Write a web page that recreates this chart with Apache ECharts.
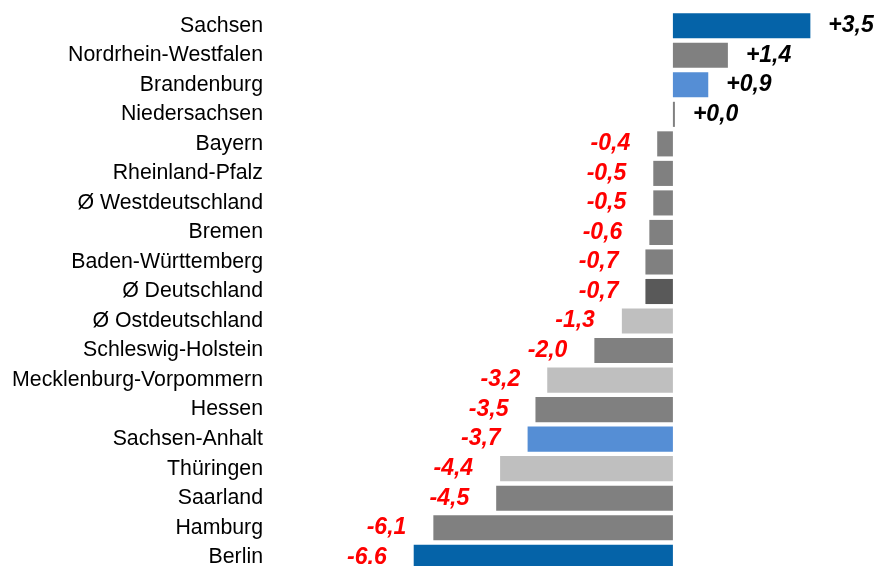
<!DOCTYPE html>
<html>
<head>
<meta charset="utf-8">
<script src="https://cdn.jsdelivr.net/npm/echarts@6/dist/echarts.min.js"></script>
<style>
html,body{margin:0;padding:0;background:#fff;}
#chart{width:877px;height:566px;}
</style>
</head>
<body>
<div id="chart"></div>
<script>
var categories = ["Sachsen","Nordrhein-Westfalen","Brandenburg","Niedersachsen","Bayern","Rheinland-Pfalz","Ø Westdeutschland","Bremen","Baden-Württemberg","Ø Deutschland","Ø Ostdeutschland","Schleswig-Holstein","Mecklenburg-Vorpommern","Hessen","Sachsen-Anhalt","Thüringen","Saarland","Hamburg","Berlin"];
var values = [3.5,1.4,0.9,0.0,-0.4,-0.5,-0.5,-0.6,-0.7,-0.7,-1.3,-2.0,-3.2,-3.5,-3.7,-4.4,-4.5,-6.1,-6.6];
var valueLabels = ["+3,5","+1,4","+0,9","+0,0","-0,4","-0,5","-0,5","-0,6","-0,7","-0,7","-1,3","-2,0","-3,2","-3,5","-3,7","-4,4","-4,5","-6,1","-6.6"];
var barColors = ["#0563A8","#808080","#558ED5","#808080","#808080","#808080","#808080","#808080","#808080","#595959","#BFBFBF","#808080","#BFBFBF","#808080","#558ED5","#BFBFBF","#808080","#808080","#0563A8"];

var chart = echarts.init(document.getElementById('chart'));
var data = values.map(function(v, i){
  var pos = v >= 0;
  return {
    value: v,
    itemStyle: {color: barColors[i]},
    label: {
      show: true,
      position: pos ? 'right' : 'left',
      distance: pos ? 18 : 27,
      formatter: valueLabels[i],
      color: pos ? '#000000' : '#FF0000',
      fontFamily: 'Liberation Sans, Arial, sans-serif',
      fontWeight: 'bold',
      fontStyle: 'italic',
      fontSize: 23
    }
  };
});
chart.setOption({
  animation: false,
  backgroundColor: '#ffffff',
  grid: {left: 398, width: 432, top: 11, height: 561, outerBoundsMode: 'none', containLabel: false},
  xAxis: {
    type: 'value', min: -7, max: 4, show: false,
    splitLine: {show: false}
  },
  yAxis: {
    type: 'category', data: categories, inverse: true,
    axisLine: {show: false}, axisTick: {show: false},
    axisLabel: {
      margin: 135, color: '#000000', fontSize: 21.3,
      fontFamily: 'Liberation Sans, Arial, sans-serif'
    }
  },
  series: [{
    type: 'bar',
    data: data,
    barCategoryGap: '15%',
    barMinHeight: 2
  }]
});
</script>
</body>
</html>
